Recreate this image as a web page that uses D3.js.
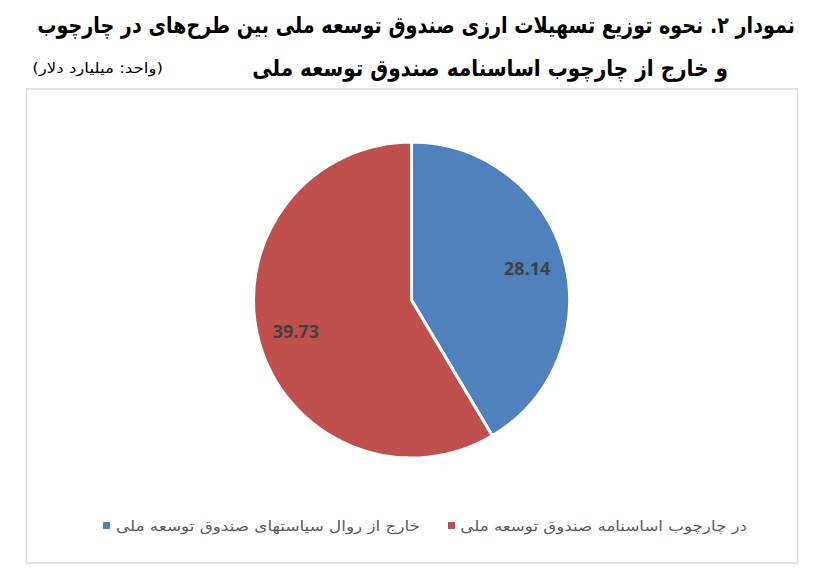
<!DOCTYPE html>
<html><head><meta charset="utf-8">
<script src="https://cdn.jsdelivr.net/npm/d3@7"></script>
<style>body{margin:0;background:#fff;} svg{display:block;}</style>
</head><body>
<svg id="c" width="828" height="585"></svg>
<script>
const titleLines = ["نمودار ۲. نحوه توزیع تسهیلات ارزی صندوق توسعه ملی بین طرح‌های در چارچوب", "و خارج از چارچوب اساسنامه صندوق توسعه ملی"];
const unitLabel = "(واحد: میلیارد دلار)";
const categories = ["خارج از روال سیاستهای صندوق توسعه ملی", "در چارچوب اساسنامه صندوق توسعه ملی"];
const values = [28.14, 39.73];
const colors = ["#4f81bd", "#c0504d"];

const svg = d3.select("#c");

// text fitted to a width by horizontal scaling (right edge anchored)
function fitText(str, right, baseline, width, size, weight, fill) {
  const t = svg.append("text").attr("direction", "rtl").attr("text-anchor", "start")
    .attr("font-family", "DejaVu Sans").attr("font-weight", weight)
    .attr("font-size", size).attr("fill", fill).text(str);
  const w = t.node().getComputedTextLength();
  t.attr("transform", `translate(${right},${baseline}) scale(${Math.min(1.2, width / w)},1)`);
  return t;
}

// title
fitText(titleLines[0], 795, 33, 758, 23, "bold", "#000");
fitText(titleLines[1], 728, 76, 476, 23, "bold", "#000");
fitText(unitLabel, 163, 73, 131, 14, "normal", "#000");

// chart frame
svg.append("rect").attr("x", 26.5).attr("y", 89).attr("width", 771).attr("height", 474)
  .attr("fill", "#fff").attr("stroke", "#d9d9d9").attr("stroke-width", 1.5);

// pie
const cx = 411.5, cy = 300, r = 158;
const pie = d3.pie().sort(null).value(d => d);
const arcs = pie(values);
const arc = d3.arc().innerRadius(0).outerRadius(r);
const labelArc = d3.arc().innerRadius(120).outerRadius(120);
const g = svg.append("g").attr("transform", `translate(${cx},${cy})`);
g.selectAll("path").data(arcs).join("path")
  .attr("d", arc).attr("fill", (d, i) => colors[i])
  .attr("stroke", "#fff").attr("stroke-width", 3).attr("stroke-linejoin", "miter");
g.selectAll("text.lbl").data(arcs).join("text").attr("class", "lbl")
  .attr("transform", d => `translate(${labelArc.centroid(d)})`)
  .attr("text-anchor", "middle").attr("dy", "0.35em")
  .attr("font-family", "Open Sans").attr("font-weight", "bold").attr("font-size", 18).attr("fill", "#404040")
  .text(d => d.value.toFixed(2));

// legend
const legendX = [103, 448];
const legendW = [305, 287];
categories.forEach((c, i) => {
  svg.append("rect").attr("x", legendX[i]).attr("y", 522).attr("width", 7).attr("height", 7).attr("fill", colors[i]);
  fitText(c, legendX[i] + 12 + legendW[i], 531, legendW[i], 14, "normal", "#595959");
});
</script>
</body></html>
